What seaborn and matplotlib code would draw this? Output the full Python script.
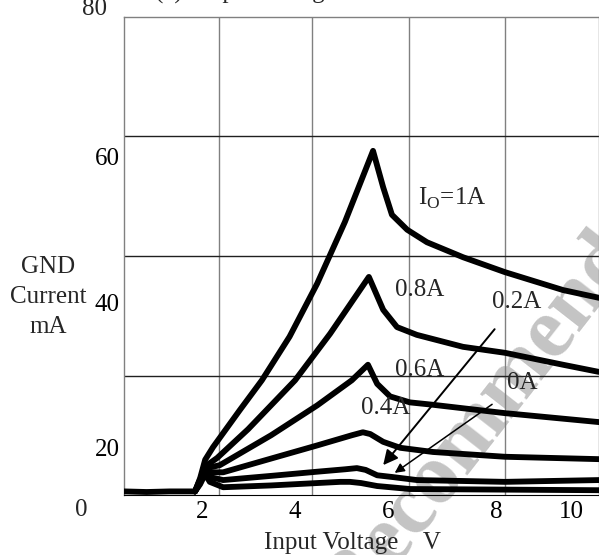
import numpy as np
import pandas as pd
import seaborn as sns
import matplotlib
matplotlib.use("Agg")
import matplotlib.pyplot as plt

# ================================
# Data
# ================================

# shared flat part before turn-on
v_base = [0.31, 0.8, 1.3, 1.85]
i_base = [0.6, 0.5, 0.6, 0.6]

v_1a = [1.85, 1.96, 2.07, 2.24, 2.82, 3.30, 3.9, 4.5, 5.1, 5.71, 5.93, 6.12, 6.45, 6.88, 7.38, 7.66, 8.57, 9.83, 10.61]
i_1a = [0.6, 2.8, 5.9, 8.0, 14.2, 19.2, 26.5, 35.4, 45.7, 57.6, 51.5, 46.9, 44.4, 42.3, 40.7, 39.8, 37.3, 34.3, 33.0]

v_08 = [1.85, 1.96, 2.11, 2.33, 3.0, 4.02, 4.78, 5.62, 5.93, 6.23, 6.66, 7.66, 8.57, 9.83, 10.61]
i_08 = [0.6, 2.6, 5.0, 6.2, 11.0, 19.2, 27.0, 36.5, 31.0, 28.1, 26.8, 24.8, 23.8, 21.8, 20.6]

v_06 = [1.85, 1.96, 2.11, 2.39, 3.5, 4.5, 5.25, 5.60, 5.80, 6.08, 6.51, 7.01, 8.57, 10.61]
i_06 = [0.6, 2.5, 4.5, 5.0, 10.0, 15.0, 19.2, 21.8, 18.6, 16.5, 15.5, 15.1, 13.7, 12.2]

v_04 = [1.85, 1.96, 2.11, 2.46, 3.5, 4.5, 5.25, 5.49, 5.65, 5.93, 6.30, 7.01, 8.57, 10.61]
i_04 = [0.6, 2.3, 3.8, 3.8, 6.1, 8.3, 10.0, 10.5, 10.2, 8.9, 7.9, 7.2, 6.4, 6.0]

v_02 = [1.85, 1.96, 2.07, 2.17, 2.46, 3.5, 4.5, 5.10, 5.36, 5.55, 5.80, 6.14, 6.66, 8.57, 10.61]
i_02 = [0.6, 2.0, 4.0, 3.0, 2.5, 3.2, 3.9, 4.3, 4.5, 4.2, 3.3, 3.0, 2.5, 2.2, 2.5]

v_00 = [1.85, 1.96, 2.07, 2.17, 2.46, 3.5, 4.5, 5.0, 5.21, 5.45, 5.80, 6.51, 8.57, 10.61]
i_00 = [0.6, 1.8, 3.5, 2.2, 1.3, 1.6, 2.0, 2.2, 2.2, 2.0, 1.5, 1.0, 0.9, 0.8]

loads = ["base", "1A", "0.8A", "0.6A", "0.4A", "0.2A", "0A"]

# tick labels as printed (the scan's labels sit off the grid)
xtick_pos = [2.0, 4.02, 6.03, 8.38, 10.0]
xtick_lab = ["2", "4", "6", "8", "10"]
ytick_pos = [56.6, 32.3, 8.0]
ytick_lab = ["60", "40", "20"]

grid_x = [2.37, 4.39, 6.49, 8.57]
grid_y = [20, 40, 60]

# ================================
# Long-form table
# ================================

series = [(v_base, i_base), (v_1a, i_1a), (v_08, i_08), (v_06, i_06),
          (v_04, i_04), (v_02, i_02), (v_00, i_00)]

frames = []
for name, (v, i) in zip(loads, series):
    frames.append(pd.DataFrame({"V": v, "I": i, "load": name}))
df = pd.concat(frames, ignore_index=True)

# ================================
# Plot
# ================================

sns.set_style("white")
plt.rcParams["font.family"] = ["Liberation Serif", "DejaVu Serif"]
plt.rcParams["mathtext.fontset"] = "custom"
plt.rcParams["mathtext.rm"] = "Liberation Serif"

fig = plt.figure(figsize=(5.99, 5.55), dpi=100)
ax = fig.add_axes([124 / 599, 60 / 555, 475 / 599, 478 / 555])
ax.set_zorder(1)
ax.patch.set_alpha(0)

# watermark, under the axes
fig.text(259 / 599, 1 - 742 / 555, "Not Recommended", fontsize=62,
         fontweight="bold", color="#c4c4c4", rotation=52, ha="left",
         va="baseline", rotation_mode="anchor", zorder=0)

sns.lineplot(data=df, x="V", y="I", units="load", estimator=None, sort=False,
             color="black", lw=4.2, legend=False, ax=ax, zorder=3)

ax.set_xlim(0.31, 10.61)
ax.set_ylim(0, 80)

ax.set_xticks(xtick_pos)
ax.set_xticklabels(xtick_lab)
ax.set_yticks(ytick_pos)
ax.set_yticklabels(ytick_lab)
ax.set_xticks(grid_x, minor=True)
ax.set_yticks(grid_y, minor=True)
ax.tick_params(which="both", length=0, labelsize=18, colors="black")
ax.tick_params(axis="x", pad=4)
ax.tick_params(axis="y", pad=3)
ax.grid(False)
ax.grid(which="minor", axis="x", color="#808080", lw=1.0)
ax.grid(which="minor", axis="y", color="#202020", lw=1.0)
ax.set_xlabel("")
ax.set_ylabel("")

for side in ["top", "left", "right"]:
    ax.spines[side].set_color("#808080")
    ax.spines[side].set_linewidth(1.0)
ax.spines["bottom"].set_color("black")

# loose tick labels outside the axis range
ax.text(-0.05, 81.3, "80", fontsize=18, ha="right", va="center", clip_on=False)
ax.text(-0.62, -2.5, "0", fontsize=18, ha="center", va="center", clip_on=False)

# curve labels
ax.text(6.69, 49.7, r"I$_{\mathrm{O}}$=1A", fontsize=18, ha="left", va="center")
ax.text(6.71, 34.3, "0.8A", fontsize=18, ha="center", va="center")
ax.text(6.71, 20.9, "0.6A", fontsize=18, ha="center", va="center")
ax.text(5.99, 14.6, "0.4A", fontsize=18, ha="center", va="center")

ax.annotate("0.2A", xy=(5.93, 5.0), xytext=(8.83, 32.3), fontsize=18,
            ha="center", va="center",
            arrowprops=dict(arrowstyle="-|>", color="black", lw=1.4,
                            mutation_scale=22, shrinkA=12, shrinkB=0))
ax.annotate("0A", xy=(6.18, 3.7), xytext=(8.94, 18.7), fontsize=18,
            ha="center", va="center",
            arrowprops=dict(arrowstyle="-|>", color="black", lw=1.1,
                            mutation_scale=14, shrinkA=10, shrinkB=0))

# axis titles
fig.text(352 / 599, 1 - 543 / 555, "Input Voltage    V", fontsize=18,
         ha="center", va="center")
fig.text(48 / 599, 1 - 297 / 555, "GND\nCurrent\nmA", fontsize=18,
         ha="center", va="center", multialignment="center", linespacing=1.45)

# chart title, mostly cut off at the top of the scan
fig.text(155 / 599, 1 + 1 / 555, "(a)   Input Voltage vs. GND Current",
         fontsize=18, ha="left", va="baseline")

fig.savefig("out.png", dpi=100)
